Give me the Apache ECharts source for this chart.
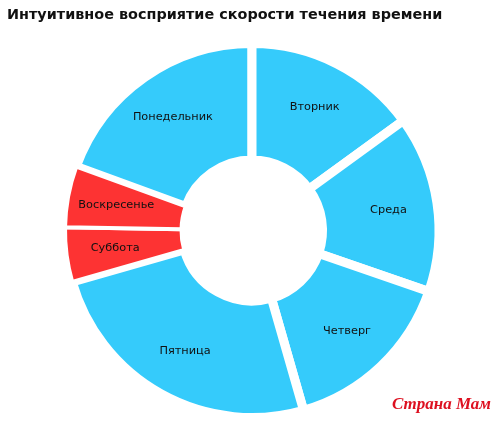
<!DOCTYPE html>
<html><head><meta charset="utf-8">
<script src="https://cdn.jsdelivr.net/npm/echarts@6/dist/echarts.min.js"></script>
<style>html,body{margin:0;padding:0;background:#fff}#c{width:500px;height:421px}</style>
</head><body><div id="c"></div>
<script>
var titleText = 'Интуитивное восприятие скорости течения времени';
var days = ['Понедельник','Вторник','Среда','Четверг','Пятница','Суббота','Воскресенье'];
var values = [70, 54, 55, 55, 90, 17, 19];
var weekend = [false, false, false, false, false, true, true];
var blue = '#35cbfb', red = '#fd3333';

var sliceData = days.map(function(d, i){
  return {name: d, value: values[i], itemStyle: {color: weekend[i] ? red : blue, borderColor: '#fff', borderWidth: weekend[i] ? 4 : 9}};
});
var labelData = days.map(function(d, i){ return {name: d, value: values[i]}; });

var chart = echarts.init(document.getElementById('c'), null, {renderer: 'canvas'});
chart.setOption({
  animation: false,
  backgroundColor: '#fff',
  title: {text: titleText, left: 2, top: 3, textStyle: {fontFamily: 'DejaVu Sans, Verdana, sans-serif', fontSize: 14.4, fontWeight: 'bold', color: '#111'}},
  graphic: [{type: 'text', right: 8, top: 395, style: {text: 'Страна Мам', fontFamily: 'Liberation Serif, serif', fontStyle: 'italic', fontWeight: 'bold', fontSize: 17, fill: '#dd1020', stroke: '#fff', lineWidth: 2, shadowBlur: 3, shadowColor: 'rgba(0,0,0,0.35)'}}],
  series: [{
    type: 'pie', center: [252, 230.5], radius: [70.5, 187], startAngle: 160, clockwise: true,
    label: {show: false}, labelLine: {show: false}, silent: true,
    data: sliceData
  }, {
    type: 'pie', center: [252, 230.5], radius: [83, 187], startAngle: 160, clockwise: true,
    itemStyle: {color: 'rgba(0,0,0,0)'}, silent: true,
    label: {show: true, position: 'inside', formatter: '{b}', fontFamily: 'DejaVu Sans, Verdana, sans-serif', fontSize: 11.3, color: '#111'},
    labelLine: {show: false},
    data: labelData
  }]
});
</script></body></html>
